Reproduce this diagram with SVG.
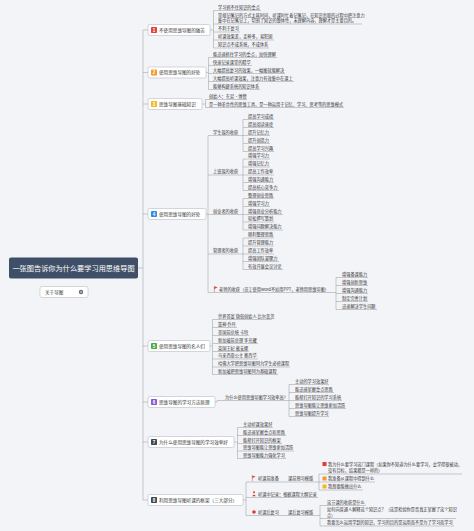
<svg xmlns="http://www.w3.org/2000/svg" width="474" height="531" viewBox="0 0 474 531">
<style>
.ln{fill:none;stroke:#a3a7ad;stroke-width:.6}
.t{font-family:"Noto Sans CJK SC","Noto Sans",sans-serif;font-size:4.2px;fill:#333}
.bt{font-family:"Noto Sans CJK SC","Noto Sans",sans-serif;font-size:4.6px;fill:#333}
.box{fill:#fff;stroke:#b9bcc2;stroke-width:.6}
.num{font-family:"Liberation Sans",sans-serif;font-size:4.5px;font-weight:bold;fill:#fff;text-anchor:middle}
</style>
<rect width="474" height="531" fill="#f3f4f8"/>
<g id="connectors" class="ln">
<path d="M138 268H143M143 30V500M143 30H148M143 72.5H148M143 104H148M143 214H148M143 346H148M143 402H148M143 442H148M143 500H148"/>
<path d="M210 30H213.5M213.5 10.5V48"/>
<path d="M206 72.5H208.5M208.5 57.5V89.5"/>
<path d="M202 104H205.5M205.5 99.5V107.5"/>
<path d="M206 214H208M208 135.5V292.5"/>
<path d="M243 119.5V151.5M243 159V190.5M243 198.5V230M243 238V269.5"/>
<path d="M330 292.5H336M336 277.5V309.5"/>
<path d="M210 346H212.5M212.5 319.5V374.5"/>
<path d="M215 402H217V400.5H219M289 384.5V416.5"/>
<path d="M234 442H237.5M237.5 427.5V458.5"/>
<path d="M243 500H246M246 482V515.5"/>
<path d="M282 482H286M315 482H319M319 474V490"/>
<path d="M282 515.5H286M315 515.5H320M320 505.5V526"/>
</g>
<g id="center">
<rect x="9" y="257.5" width="129" height="21" rx="2" fill="#3f4f68"/>
<text x="73.5" y="270.5" text-anchor="middle" font-family="Noto Sans CJK SC, sans-serif" font-size="7.2" fill="#fff">一张图告诉你为什么要学习用思维导图</text>
</g>
<g id="about">
<rect x="40" y="286.5" width="48" height="11" rx="1.5" class="box"/>
<text class="bt" x="45" y="293.6">关于导图</text>
<circle cx="81" cy="292" r="2.2" fill="#666"/>
<path d="M79.8 292H82.2M81 290.8V293.2" stroke="#fff" stroke-width=".5"/>
</g>
<g id="b1">
<rect x="148" y="24.5" width="62" height="11" rx="1.5" class="box"/>
<rect x="151" y="27" width="6" height="6" rx=".8" fill="#e5403a"/>
<text class="num" x="154" y="31.7">1</text>
<text class="bt" x="159" y="31.6">不使用思维导图的痛苦</text>
</g>
<g id="b1-1"><text class="t" x="218" y="8.5">学习抓不住知识的重点</text><path class="ln" d="M213.5 10.5H261"/></g>
<g id="b1-2"><text class="t" x="218" y="16.5">常规记笔记的方式太耗时间，听课时忙着记笔记，在知识串联的过程中把注意力</text><text class="t" x="218" y="22">集中在记笔记上，切割了知识的整体性，未理解内容，理解才是主要目的。</text><path class="ln" d="M213.5 24H362"/></g>
<g id="b1-3"><text class="t" x="218" y="30">不利于复习</text><path class="ln" d="M213.5 32H240"/></g>
<g id="b1-4"><text class="t" x="218" y="38">听课效果差，走神多，易犯困</text><path class="ln" d="M213.5 40H274"/></g>
<g id="b1-5"><text class="t" x="218" y="46">知识点不成系统，不成体系</text><path class="ln" d="M213.5 48H269"/></g>
<g id="b2">
<rect x="148" y="67" width="58" height="11" rx="1.5" class="box"/>
<rect x="151" y="69.5" width="6" height="6" rx=".8" fill="#f29a2e"/>
<text class="num" x="154" y="74.2">2</text>
<text class="bt" x="159" y="74.1">使用思维导图的好处</text>
</g>
<g id="b2-1"><text class="t" x="213" y="55.5">能迅速抓住学习的重点，加快理解</text><path class="ln" d="M208.5 57.5H277"/></g>
<g id="b2-2"><text class="t" x="213" y="63.5">快速记录课堂的精华</text><path class="ln" d="M208.5 65.5H252"/></g>
<g id="b2-3"><text class="t" x="213" y="71.5">大幅提高复习的效果，一幅图就能解决</text><path class="ln" d="M208.5 73.5H285"/></g>
<g id="b2-4"><text class="t" x="213" y="79.5">大幅提高听课效果，注意力有效集中在课上</text><path class="ln" d="M208.5 81.5H294"/></g>
<g id="b2-5"><text class="t" x="213" y="87.5">能够构建系统的知识体系</text><path class="ln" d="M208.5 89.5H260"/></g>
<g id="b3">
<rect x="148" y="98.5" width="54" height="11" rx="1.5" class="box"/>
<rect x="151" y="101" width="6" height="6" rx=".8" fill="#f5b526"/>
<text class="num" x="154" y="105.7">3</text>
<text class="bt" x="159" y="105.6">思维导图基础知识</text>
</g>
<g id="b3-1"><text class="t" x="209" y="97.5">创始人：东尼·博赞</text><path class="ln" d="M205.5 99.5H247"/></g>
<g id="b3-2"><text class="t" x="209" y="105.5">是一种革命性的思维工具，是一种运用于记忆、学习、思考等的思维模式</text><path class="ln" d="M205.5 107.5H344"/></g>
<g id="b4">
<rect x="148" y="208.5" width="58" height="11" rx="1.5" class="box"/>
<rect x="151" y="211" width="6" height="6" rx=".8" fill="#2f8fdd"/>
<text class="num" x="154" y="215.7">4</text>
<text class="bt" x="159" y="215.6">使用思维导图的好处</text>
</g>
<g id="g-student"><text class="t" x="213" y="133.5">学生族的收获</text><path class="ln" d="M208 135.5H243"/></g>
<g id="s1"><text class="t" x="248" y="117.5">提高学习成绩</text><path class="ln" d="M243 119.5H274"/></g>
<g id="s2"><text class="t" x="248" y="125.5">提高阅读速度</text><path class="ln" d="M243 127.5H274"/></g>
<g id="s3"><text class="t" x="248" y="133.5">提升记忆力</text><path class="ln" d="M243 135.5H270"/></g>
<g id="s4"><text class="t" x="248" y="141.5">提升创造力</text><path class="ln" d="M243 143.5H270"/></g>
<g id="s5"><text class="t" x="248" y="149.5">提高学习兴趣</text><path class="ln" d="M243 151.5H274"/></g>
<g id="g-office"><text class="t" x="213" y="173">上班族的收获</text><path class="ln" d="M208 175H243"/></g>
<g id="o1"><text class="t" x="248" y="157">增强学习力</text><path class="ln" d="M243 159H270"/></g>
<g id="o2"><text class="t" x="248" y="165">增强记忆力</text><path class="ln" d="M243 167H270"/></g>
<g id="o3"><text class="t" x="248" y="173">提高工作效率</text><path class="ln" d="M243 175H274"/></g>
<g id="o4"><text class="t" x="248" y="180.5">增强沟通能力</text><path class="ln" d="M243 182.5H274"/></g>
<g id="o5"><text class="t" x="248" y="188.5">提高核心竞争力</text><path class="ln" d="M243 190.5H279"/></g>
<g id="g-founder"><text class="t" x="213" y="212.5">创业者的收获</text><path class="ln" d="M208 214.5H243"/></g>
<g id="f1"><text class="t" x="248" y="196.5">整理创业思路</text><path class="ln" d="M243 198.5H274"/></g>
<g id="f2"><text class="t" x="248" y="204.5">增强学习力</text><path class="ln" d="M243 206.5H270"/></g>
<g id="f3"><text class="t" x="248" y="212.5">增强商业分析能力</text><path class="ln" d="M243 214.5H283"/></g>
<g id="f4"><text class="t" x="248" y="220">轻松撰写策划</text><path class="ln" d="M243 222H274"/></g>
<g id="f5"><text class="t" x="248" y="228">增强问题解决能力</text><path class="ln" d="M243 230H283"/></g>
<g id="g-manager"><text class="t" x="213" y="252">管理者的收获</text><path class="ln" d="M208 254H243"/></g>
<g id="m1"><text class="t" x="248" y="236">顺利整理思路</text><path class="ln" d="M243 238H274"/></g>
<g id="m2"><text class="t" x="248" y="244">提升管理能力</text><path class="ln" d="M243 246H274"/></g>
<g id="m3"><text class="t" x="248" y="252">提高工作效率</text><path class="ln" d="M243 254H274"/></g>
<g id="m4"><text class="t" x="248" y="259.5">增强团队凝聚力</text><path class="ln" d="M243 261.5H279"/></g>
<g id="m5"><text class="t" x="248" y="267.5">有效开展会议讨论</text><path class="ln" d="M243 269.5H283"/></g>
<g id="g-teacher">
<path d="M214.3 286.3V291.8" stroke="#c33" stroke-width=".5"/>
<path d="M214.3 286.3L217.6 287.6L214.3 288.9Z" fill="#e03b3b"/>
<text class="t" x="219" y="290.5">老师的收获（员工使用word不如用PPT，老师用思维导图）</text>
<path class="ln" d="M208 292.5H330"/>
</g>
<g id="t1"><text class="t" x="342" y="275.5">增强备课能力</text><path class="ln" d="M336 277.5H368"/></g>
<g id="t2"><text class="t" x="342" y="283.5">增强创新思维</text><path class="ln" d="M336 285.5H368"/></g>
<g id="t3"><text class="t" x="342" y="291.5">增强沟通能力</text><path class="ln" d="M336 293.5H368"/></g>
<g id="t4"><text class="t" x="342" y="299.5">制定完善计划</text><path class="ln" d="M336 301.5H368"/></g>
<g id="t5"><text class="t" x="342" y="307.5">迅速解决学生问题</text><path class="ln" d="M336 309.5H377"/></g>
<g id="b5">
<rect x="148" y="340.5" width="62" height="11" rx="1.5" class="box"/>
<rect x="151" y="343" width="6" height="6" rx=".8" fill="#45ae49"/>
<text class="num" x="154" y="347.7">5</text>
<text class="bt" x="159" y="347.6">使用思维导图的名人们</text>
</g>
<g id="b5-1"><text class="t" x="218" y="317.5">世界首富 微软创始人 比尔盖茨</text><path class="ln" d="M212.5 319.5H272"/></g>
<g id="b5-2"><text class="t" x="218" y="325.5">篮神 乔丹</text><path class="ln" d="M212.5 327.5H237"/></g>
<g id="b5-3"><text class="t" x="218" y="333.5">美国前总统 卡特</text><path class="ln" d="M212.5 335.5H249"/></g>
<g id="b5-4"><text class="t" x="218" y="341.5">新加坡前总理 李光耀</text><path class="ln" d="M212.5 343.5H258"/></g>
<g id="b5-5"><text class="t" x="218" y="349.5">英国王妃 戴安娜</text><path class="ln" d="M212.5 351.5H249"/></g>
<g id="b5-6"><text class="t" x="218" y="357">马来西亚公主 奥西华</text><path class="ln" d="M212.5 359H258"/></g>
<g id="b5-7"><text class="t" x="218" y="365">哈佛大学把思维导图列为学生必修课程</text><path class="ln" d="M212.5 367H290"/></g>
<g id="b5-8"><text class="t" x="218" y="372.5">新加坡把思维导图列为基础课程</text><path class="ln" d="M212.5 374.5H278"/></g>
<g id="b6">
<rect x="148" y="396.5" width="67" height="11" rx="1.5" class="box"/>
<rect x="151" y="399" width="6" height="6" rx=".8" fill="#8b55d1"/>
<text class="num" x="154" y="403.7">6</text>
<text class="bt" x="159" y="403.6">思维导图的学习方法原理</text>
</g>
<g id="b6-1"><text class="t" x="225" y="398.5">为什么使用思维导图学习效率高?</text><path class="ln" d="M219 400.5H289"/></g>
<g id="b6-1-1"><text class="t" x="295" y="382.5">主动的学习效果好</text><path class="ln" d="M289 384.5H329"/></g>
<g id="b6-1-2"><text class="t" x="295" y="390.5">能迅速掌握重点思路</text><path class="ln" d="M289 392.5H334"/></g>
<g id="b6-1-3"><text class="t" x="295" y="398.5">能帮打开知识的学习系统</text><path class="ln" d="M289 400.5H342"/></g>
<g id="b6-1-4"><text class="t" x="295" y="406.5">思维导图能让思维更加活跃</text><path class="ln" d="M289 408.5H346"/></g>
<g id="b6-1-5"><text class="t" x="295" y="414.5">思维导图提升学习</text><path class="ln" d="M289 416.5H329"/></g>
<g id="b7">
<rect x="148" y="436.5" width="86" height="11" rx="1.5" class="box"/>
<rect x="151" y="439" width="6" height="6" rx=".8" fill="#3e4753"/>
<text class="num" x="154" y="443.7">7</text>
<text class="bt" x="159" y="443.6">为什么使用思维导图的学习效率好</text>
</g>
<g id="b7-1"><text class="t" x="243" y="425.5">主动听课效果好</text><path class="ln" d="M237.5 427.5H273"/></g>
<g id="b7-2"><text class="t" x="243" y="433.5">能迅速掌握重点和思路</text><path class="ln" d="M237.5 435.5H286"/></g>
<g id="b7-3"><text class="t" x="243" y="441.5">能帮打开知识的框架</text><path class="ln" d="M237.5 443.5H282"/></g>
<g id="b7-4"><text class="t" x="243" y="449">思维导图能让思维更加活跃</text><path class="ln" d="M237.5 451H294"/></g>
<g id="b7-5"><text class="t" x="243" y="456.5">思维导图能力强化学习</text><path class="ln" d="M237.5 458.5H286"/></g>
<g id="b8">
<rect x="148" y="494.5" width="95" height="11" rx="1.5" class="box"/>
<rect x="151" y="497" width="6" height="6" rx=".8" fill="#3e4753"/>
<text class="num" x="154" y="501.7">8</text>
<text class="bt" x="159" y="501.6">利用思维导图听课的框架（三大部分）</text>
</g>
<g id="b8-a">
<path d="M252.3 475.5V481" stroke="#c33" stroke-width=".5"/>
<path d="M252.3 475.5L255.6 476.8L252.3 478.1Z" fill="#e03b3b"/>
<text class="t" x="258" y="479.5">听课前准备</text><path class="ln" d="M246 482H282"/>
</g>
<g id="b8-a-1"><text class="t" x="288" y="479.5">课前预习模版</text><path class="ln" d="M286 482H315"/></g>
<g id="b8-a-1-1"><rect x="322.5" y="462" width="4" height="4" rx=".6" fill="#e03b3b"/><text class="t" x="328" y="465.5">我为什么要学习这门课程（如果你不知道为什么要学习，会学得很被动，</text><text class="t" x="328" y="471.5">没有目标，结果都是一样的）</text><path class="ln" d="M319 474H462"/></g>
<g id="b8-a-1-2"><rect x="322.5" y="476.5" width="4" height="4" rx=".6" fill="#f29a2e"/><text class="t" x="328" y="480">我准备从课程中得到什么</text><path class="ln" d="M319 482H375"/></g>
<g id="b8-a-1-3"><rect x="322.5" y="484.5" width="4" height="4" rx=".6" fill="#f5b526"/><text class="t" x="328" y="488">我想要能做出什么</text><path class="ln" d="M319 490H363"/></g>
<g id="b8-b">
<circle cx="254" cy="492.3" r="1" fill="#e03b3b"/>
<path d="M252.2 496.2Q254 493 255.8 496.2Z" fill="#e03b3b"/>
<text class="t" x="258" y="495.5">听课中记录：根据课程大纲记录</text><path class="ln" d="M246 497.5H318"/>
</g>
<g id="b8-c">
<circle cx="254" cy="512" r="1.8" fill="#e03b3b"/>
<text class="t" x="258" y="513.5">听课后复习</text><path class="ln" d="M246 515.5H282"/>
</g>
<g id="b8-c-1"><text class="t" x="288" y="513.5">课后复习模版</text><path class="ln" d="M286 515.5H315"/></g>
<g id="b8-c-1-1"><text class="t" x="327" y="503.5">这节课的收获是什么</text><path class="ln" d="M320 505.5H366"/></g>
<g id="b8-c-1-2"><text class="t" x="327" y="510.5">如何向普通人解释这个知识点？（这是检验你是否真正掌握了这个知识</text><text class="t" x="327" y="516.5">点）</text><path class="ln" d="M320 518.5H456"/></g>
<g id="b8-c-1-3"><text class="t" x="327" y="524">我要怎么运用学到的知识，学习的目的是运用而不是为了学习而学习</text><path class="ln" d="M320 526H454"/></g>
</svg>
